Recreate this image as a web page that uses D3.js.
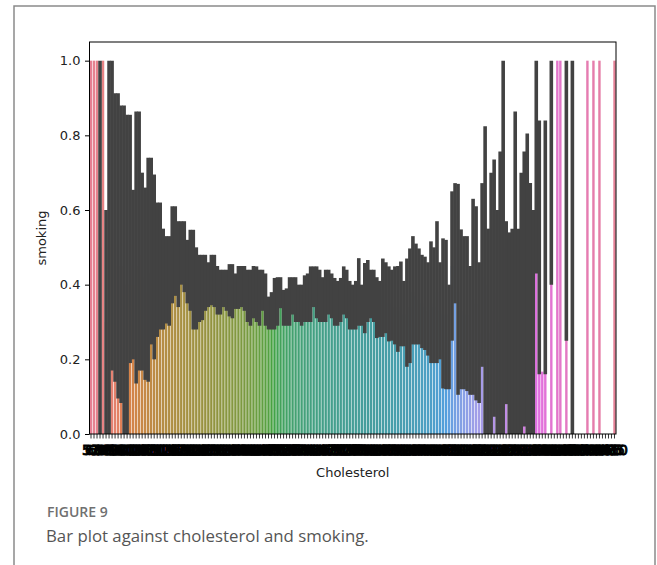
<!DOCTYPE html>
<html>
<head>
<meta charset="utf-8">
<script src="https://cdn.jsdelivr.net/npm/d3@7"></script>
<style>
  body { margin: 0; background: #fff; }
  #chart svg { display: block; }
</style>
</head>
<body>
<div id="chart"></div>
<script>
// category labels (cholesterol values, x axis)
const cholesterol = [
  52, 60, 68, 74, 80, 85, 89, 93, 96, 98,
  100, 101, 102, 103, 104, 105, 106, 107, 108, 109, 110, 111, 112, 113, 114, 115, 116, 117, 118, 119,
  120, 121, 122, 123, 124, 125, 126, 127, 128, 129, 130, 131, 132, 133, 134, 135, 136, 137, 138, 139,
  140, 141, 142, 143, 144, 145, 146, 147, 148, 149, 150, 151, 152, 153, 154, 155, 156, 157, 158, 159,
  160, 161, 162, 163, 164, 165, 166, 167, 168, 169, 170, 171, 172, 173, 174, 175, 176, 177, 178, 179,
  180, 181, 182, 183, 184, 185, 186, 187, 188, 189, 190, 191, 192, 193, 194, 195, 196, 197, 198, 199,
  200, 201, 202, 203, 204, 205, 206, 207, 208, 209, 210, 211, 212, 213, 214, 215, 216, 217, 218, 219,
  220, 221, 222, 223, 224, 225, 226, 227, 228, 229, 230, 231, 232, 233, 234, 235, 236, 237, 238, 239,
  240, 241, 242, 243, 244, 245, 246, 247, 248, 249, 250,
  255, 260, 266, 272, 280, 288, 296, 305, 315, 330, 345, 365, 385, 410
];

// mean of smoking per category
const smokingMean = [
  1, 1, 1, 0.5, 1, 0.3, 0.5, 0.55, 0.5, 0.45,
  0.45, 0.4, 0.4, 0.45, 0.4, 0.45, 0.48, 0.42, 0.38, 0.43,
  0.46, 0.44, 0.44, 0.43, 0.41, 0.41, 0.40, 0.47, 0.48, 0.45,
  0.48, 0.47, 0.43, 0.43, 0.40, 0.38, 0.39, 0.39, 0.40, 0.39,
  0.41, 0.41, 0.385, 0.38, 0.39, 0.385, 0.385, 0.38, 0.38, 0.39,
  0.39, 0.39, 0.37, 0.37, 0.38, 0.375, 0.37, 0.38, 0.36, 0.33,
  0.33, 0.35, 0.36, 0.38, 0.34, 0.34, 0.36, 0.37, 0.36, 0.35,
  0.35, 0.36, 0.37, 0.375, 0.39, 0.38, 0.37, 0.36, 0.37, 0.38,
  0.37, 0.36, 0.35, 0.36, 0.38, 0.37, 0.35, 0.34, 0.35, 0.38,
  0.35, 0.37, 0.38, 0.37, 0.37, 0.34, 0.33, 0.37, 0.36, 0.35,
  0.35, 0.34, 0.33, 0.34, 0.32, 0.32, 0.34, 0.38, 0.37, 0.36,
  0.35, 0.34, 0.33, 0.35, 0.34, 0.38, 0.33, 0.32, 0.32, 0.26,
  0.45, 0.5, 0.38, 0.33, 0.32, 0.32, 0.28, 0.36, 0.35, 0.27,
  0.42, 0.4, 0.27, 0.33, 0.38, 0.3, 0.38, 0.5, 0.31, 0.27,
  0.28, 0.43, 0.27, 0.35, 0.4, 0.4, 0.33, 0.3, 0.71, 0.5,
  0.167, 0.5, 0, 0.7, 0, 1, 1, 0, 0.62, 0,
  0.5, 0, 0, 0, 0, 1, 0, 1, 0, 1,
  0, 0, 0, 0, 1
];

// lower bound of 95% CI
const ciLow = [
  1, 1, 1, 0, 1, 0, 0, 0.17, 0.14, 0.095,
  0.083, 0, 0, 0.19, 0.2, 0.135, 0.17, 0.17, 0.145, 0.14,
  0.24, 0.2, 0.26, 0.28, 0.28, 0.296, 0.29, 0.35, 0.37, 0.34,
  0.40, 0.38, 0.35, 0.33, 0.28, 0.28, 0.30, 0.305, 0.33, 0.34,
  0.345, 0.34, 0.32, 0.32, 0.34, 0.33, 0.315, 0.31, 0.335, 0.335,
  0.34, 0.33, 0.30, 0.29, 0.31, 0.30, 0.29, 0.33, 0.29, 0.28,
  0.28, 0.28, 0.29, 0.337, 0.29, 0.29, 0.29, 0.32, 0.30, 0.30,
  0.29, 0.30, 0.30, 0.30, 0.34, 0.31, 0.30, 0.30, 0.30, 0.32,
  0.31, 0.29, 0.29, 0.30, 0.32, 0.31, 0.28, 0.28, 0.28, 0.29,
  0.29, 0.27, 0.30, 0.31, 0.30, 0.257, 0.26, 0.26, 0.27, 0.248,
  0.25, 0.24, 0.22, 0.235, 0.235, 0.18, 0.19, 0.24, 0.24, 0.24,
  0.23, 0.225, 0.21, 0.19, 0.19, 0.19, 0.20, 0.122, 0.12, 0.12,
  0.25, 0.35, 0.105, 0.12, 0.12, 0.115, 0.105, 0.105, 0.09, 0.083,
  0.18, 0, 0, 0, 0.046, 0, 0, 0, 0.08, 0,
  0, 0, 0, 0, 0.02, 0, 0, 0, 0.43, 0.16,
  0.167, 0.16, 0, 0.4, 0, 1, 1, 0, 0.25, 0,
  0, 0, 0, 0, 0, 1, 0, 1, 0, 1,
  0, 0, 0, 0, 1
];

// upper bound of 95% CI
const ciHigh = [
  1, 1, 1, 1, 1, 0.6, 1.0, 1.0, 0.913, 0.913,
  0.88, 0.88, 0.855, 0.855, 0.654, 0.864, 0.864, 0.70, 0.66, 0.74,
  0.74, 0.695, 0.62, 0.62, 0.55, 0.53, 0.53, 0.61, 0.61, 0.57,
  0.57, 0.57, 0.52, 0.547, 0.547, 0.50, 0.48, 0.48, 0.48, 0.46,
  0.48, 0.48, 0.45, 0.44, 0.44, 0.44, 0.455, 0.455, 0.43, 0.45,
  0.45, 0.45, 0.44, 0.44, 0.45, 0.449, 0.44, 0.44, 0.43, 0.368,
  0.38, 0.418, 0.42, 0.42, 0.386, 0.39, 0.42, 0.42, 0.42, 0.40,
  0.40, 0.425, 0.43, 0.449, 0.449, 0.449, 0.44, 0.42, 0.44, 0.44,
  0.43, 0.418, 0.41, 0.418, 0.449, 0.44, 0.41, 0.40, 0.41, 0.471,
  0.40, 0.458, 0.466, 0.44, 0.44, 0.42, 0.41, 0.47, 0.46, 0.449,
  0.44, 0.449, 0.45, 0.462, 0.41, 0.47, 0.497, 0.53, 0.51, 0.497,
  0.48, 0.475, 0.46, 0.516, 0.50, 0.57, 0.46, 0.524, 0.52, 0.40,
  0.65, 0.672, 0.67, 0.548, 0.53, 0.53, 0.45, 0.63, 0.61, 0.46,
  0.672, 0.824, 0.55, 0.70, 0.735, 0.60, 0.757, 1.0, 0.57, 0.54,
  0.55, 0.864, 0.55, 0.70, 0.757, 0.805, 0.672, 0.60, 1.0, 0.84,
  0.167, 0.84, 0, 1.0, 0, 1, 1, 0, 1.0, 0,
  1.0, 0, 0, 0, 0, 1, 0, 1, 0, 1,
  0, 0, 0, 0, 1
];

const yTicks = [0, 0.2, 0.4, 0.6, 0.8, 1.0];

// ---- seaborn-like husl palette ----
const M = [
  [3.2406, -1.5372, -0.4986],
  [-0.9689, 1.8758, 0.0415],
  [0.0557, -0.2040, 1.0570]
];
const refU = 0.19784, refV = 0.46834, labE = 0.008856, labK = 903.3;

function maxChroma(L, H) {
  let hrad = H / 360 * Math.PI * 2;
  let sinH = Math.sin(hrad), cosH = Math.cos(hrad);
  let sub1 = Math.pow(L + 16, 3) / 1560896.0;
  let sub2 = sub1 > labE ? sub1 : L / labK;
  let result = Infinity;
  M.forEach(function(row) {
    let [m1, m2, m3] = row;
    let tp = (0.99915 * m1 + 1.05122 * m2 + 1.14460 * m3) * sub2;
    let rbottom = 0.86330 * m3 - 0.17266 * m2;
    let lbottom = 0.12949 * m3 - 0.38848 * m1;
    let bt = (rbottom * sinH + lbottom * cosH) * sub2;
    [0, 1].forEach(function(t) {
      let C = L * (tp - 1.05122 * t) / (bt + 0.17266 * sinH * t);
      if (C > 0 && C < result) result = C;
    });
  });
  return result;
}

function fromLinear(c) {
  return c <= 0.0031308 ? 12.92 * c : 1.055 * Math.pow(c, 1 / 2.4) - 0.055;
}

function huslToRgb(H, S, L) {
  let C = maxChroma(L, H) / 100 * S;
  let hrad = H / 360 * Math.PI * 2;
  let U = Math.cos(hrad) * C, V = Math.sin(hrad) * C;
  let t = (L + 16) / 116;
  let varY = Math.pow(t, 3) > labE ? Math.pow(t, 3) : (116 * t - 16) / labK;
  let varU = U / (13 * L) + refU;
  let varV = V / (13 * L) + refV;
  let Y = varY;
  let X = 0 - (9 * Y * varU) / ((varU - 4) * varV - varU * varV);
  let Z = (9 * Y - 15 * varV * Y - varV * X) / (3 * varV);
  return M.map(r => Math.min(1, Math.max(0, fromLinear(r[0] * X + r[1] * Y + r[2] * Z))));
}

function barColor(i, n) {
  let h = ((i / n + 0.01) % 1) * 359;
  let rgb = huslToRgb(h, 0.9 * 99, 0.65 * 99);
  let c = d3.hsl(d3.rgb(rgb[0] * 255, rgb[1] * 255, rgb[2] * 255));
  c.s = c.s * 0.75;   // seaborn saturation=.75
  return c.formatHex();
}

// ---- layout ----
const width = 657, height = 565;
const margin = { left: 89.5, right: 616, top: 42, bottom: 434 };

const svg = d3.select("#chart")
  .append("svg")
  .attr("width", width)
  .attr("height", height);

// outer figure frame
svg.append("path")
  .attr("d", `M14,${height + 2} V6 H655 V${height + 2}`)
  .attr("fill", "none")
  .attr("stroke", "#8a8a8a")
  .attr("stroke-width", 1.5);

const x = d3.scaleBand()
  .domain(cholesterol)
  .range([margin.left, margin.right])
  .paddingInner(0.2)
  .paddingOuter(0.1);

const y = d3.scaleLinear()
  .domain([0, 1.05])
  .range([margin.bottom, margin.top]);

const n = cholesterol.length;

// bars
svg.append("g")
  .selectAll("rect")
  .data(cholesterol)
  .enter()
  .append("rect")
  .attr("x", d => x(d))
  .attr("width", x.bandwidth())
  .attr("y", (d, i) => y(smokingMean[i]))
  .attr("height", (d, i) => y(0) - y(smokingMean[i]))
  .attr("fill", (d, i) => barColor(i, n));

// error bars
svg.append("g")
  .selectAll("line")
  .data(cholesterol.filter((d, i) => ciHigh[i] - ciLow[i] > 1e-6))
  .enter()
  .append("line")
  .attr("x1", d => x(d) + x.bandwidth() / 2)
  .attr("x2", d => x(d) + x.bandwidth() / 2)
  .attr("y1", d => y(ciLow[cholesterol.indexOf(d)]))
  .attr("y2", d => y(ciHigh[cholesterol.indexOf(d)]))
  .attr("stroke", "#424242")
  .attr("stroke-width", 3.6);

// axes
const xAxis = svg.append("g")
  .attr("transform", `translate(0,${margin.bottom})`)
  .call(d3.axisBottom(x).tickSize(4.5).tickPadding(7).tickSizeOuter(0));

xAxis.select(".domain").remove();
xAxis.selectAll("line").attr("stroke", "#000").attr("stroke-width", 0.8);
// the 175 labels pile into one dark band, as in the original
xAxis.selectAll("text")
  .attr("fill", "#000")
  .attr("stroke", "#000")
  .attr("stroke-width", 0.9)
  .style("font-family", "DejaVu Sans")
  .style("font-size", "14px");

const yAxis = svg.append("g")
  .attr("transform", `translate(${margin.left},0)`)
  .call(d3.axisLeft(y).tickValues(yTicks).tickFormat(d3.format(".1f")).tickSize(4.5).tickPadding(4.5));

yAxis.select(".domain").remove();
yAxis.selectAll("line").attr("stroke", "#000").attr("stroke-width", 1);
yAxis.selectAll("text")
  .attr("fill", "#222")
  .style("font-family", "DejaVu Sans")
  .style("font-size", "13px");

// spines
svg.append("rect")
  .attr("x", margin.left)
  .attr("y", margin.top)
  .attr("width", margin.right - margin.left)
  .attr("height", margin.bottom - margin.top)
  .attr("fill", "none")
  .attr("stroke", "#000")
  .attr("stroke-width", 1);

// axis titles
svg.append("text")
  .attr("x", (margin.left + margin.right) / 2)
  .attr("y", 477)
  .attr("text-anchor", "middle")
  .style("font-family", "DejaVu Sans")
  .style("font-size", "13px")
  .attr("fill", "#222")
  .text("Cholesterol");

svg.append("text")
  .attr("transform", `translate(46,${(margin.top + margin.bottom) / 2}) rotate(-90)`)
  .attr("text-anchor", "middle")
  .style("font-family", "DejaVu Sans")
  .style("font-size", "13px")
  .attr("fill", "#222")
  .text("smoking");

// caption
svg.append("text")
  .attr("x", 47)
  .attr("y", 517)
  .style("font-family", "Open Sans")
  .style("font-size", "14px")
  .style("font-weight", "600")
  .attr("fill", "#707070")
  .text("FIGURE 9");

svg.append("text")
  .attr("x", 46)
  .attr("y", 542)
  .style("font-family", "Open Sans")
  .style("font-size", "16.8px")
  .attr("fill", "#555")
  .text("Bar plot against cholesterol and smoking.");
</script>
</body>
</html>
